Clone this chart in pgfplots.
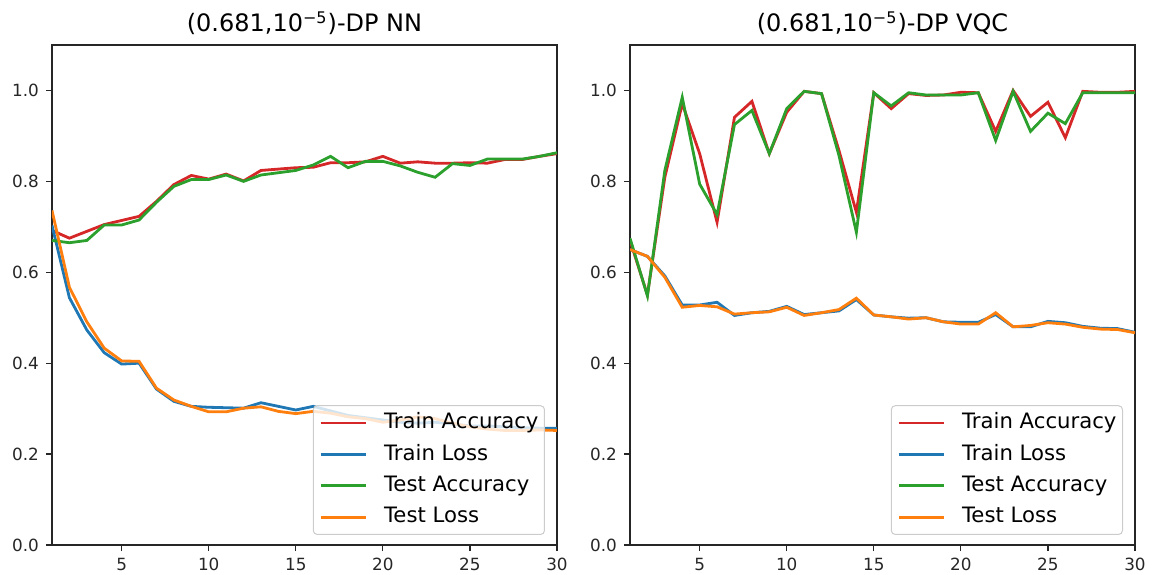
\documentclass[border=0pt]{standalone}
\usepackage{pgfplots}
\usepackage{pgfplotstable}
\pgfplotsset{compat=1.18}
\usepackage{fontspec}
\setmainfont{DejaVu Sans}
\definecolor{tred}{HTML}{D62728}
\definecolor{tblue}{HTML}{1F77B4}
\definecolor{tgreen}{HTML}{2CA02C}
\definecolor{torange}{HTML}{FF7F0E}

\pgfplotstableread{
x tra trl tea tel
1 0.692 0.703 0.670 0.736
2 0.675 0.544 0.665 0.567
3 0.690 0.473 0.670 0.491
4 0.705 0.423 0.704 0.433
5 0.714 0.398 0.704 0.405
6 0.723 0.400 0.715 0.404
7 0.756 0.343 0.754 0.345
8 0.793 0.316 0.789 0.319
9 0.813 0.305 0.804 0.305
10 0.805 0.303 0.804 0.293
11 0.816 0.302 0.814 0.293
12 0.801 0.301 0.800 0.301
13 0.824 0.313 0.814 0.304
14 0.827 0.305 0.819 0.294
15 0.830 0.297 0.824 0.289
16 0.831 0.305 0.836 0.294
17 0.841 0.295 0.855 0.290
18 0.841 0.285 0.830 0.282
19 0.843 0.280 0.844 0.278
20 0.855 0.275 0.844 0.270
21 0.840 0.270 0.834 0.275
22 0.843 0.268 0.820 0.282
23 0.840 0.270 0.809 0.278
24 0.840 0.266 0.839 0.268
25 0.841 0.262 0.835 0.260
26 0.840 0.262 0.849 0.255
27 0.848 0.260 0.849 0.252
28 0.848 0.258 0.849 0.252
29 0.855 0.257 0.855 0.253
30 0.861 0.257 0.863 0.252
}\leftdata

\pgfplotstableread{
x tra trl tea tel
1 0.670 0.650 0.675 0.650
2 0.550 0.635 0.548 0.635
3 0.809 0.592 0.824 0.589
4 0.971 0.528 0.985 0.523
5 0.861 0.528 0.794 0.527
6 0.710 0.534 0.727 0.524
7 0.941 0.505 0.925 0.508
8 0.976 0.511 0.956 0.511
9 0.861 0.514 0.861 0.513
10 0.952 0.525 0.960 0.523
11 0.998 0.507 0.998 0.505
12 0.993 0.511 0.993 0.511
13 0.868 0.515 0.857 0.518
14 0.732 0.540 0.688 0.543
15 0.995 0.506 0.995 0.506
16 0.960 0.502 0.966 0.502
17 0.993 0.499 0.995 0.497
18 0.989 0.500 0.990 0.500
19 0.990 0.491 0.990 0.491
20 0.996 0.490 0.990 0.486
21 0.995 0.490 0.995 0.486
22 0.910 0.507 0.890 0.511
23 1.000 0.480 0.998 0.480
24 0.943 0.480 0.910 0.483
25 0.974 0.492 0.950 0.489
26 0.896 0.489 0.927 0.486
27 0.998 0.481 0.995 0.479
28 0.996 0.477 0.995 0.475
29 0.996 0.476 0.995 0.474
30 0.998 0.468 0.995 0.467
}\rightdata

\pgfplotsset{
  myax/.style={
    scale only axis, width=252.5pt, height=250pt,
    anchor=south west,
    xmin=1, xmax=30, ymin=0, ymax=1.1,
    xtick={5,10,15,20,25,30},
    ytick={0,0.2,0.4,0.6,0.8,1.0},
    /pgf/number format/assume math mode=true,
    yticklabel style={/pgf/number format/fixed, /pgf/number format/fixed zerofill, /pgf/number format/precision=1},
    tick label style={font=\fontsize{8.4}{10}\selectfont, text=black!85},
    tick align=outside, major tick length=3pt,
    tick style={line width=0.6pt, black!85},
    axis line style={line width=0.6pt, black!85},
    xtick pos=bottom, ytick pos=left,
    title style={at={(0.5,1)}, anchor=base, yshift=0.5pt, font=\fontsize{12}{14}\selectfont},
    every axis plot/.append style={line width=1.4pt},
    legend cell align=left,
    legend image code/.code={\draw[##1] (0pt,0pt) -- (22.5pt,0pt);},
    legend style={at={(1,0)}, anchor=south east, xshift=-6pt, yshift=5pt,
      draw=black!20, line width=0.5pt, rounded corners=2pt, fill=white, fill opacity=0.8, text opacity=1,
      font=\fontsize{10.6}{12.6}\selectfont, row sep=2.4pt, column sep=8.5pt, inner xsep=3pt, inner ysep=2pt,
      nodes={inner xsep=0pt, inner ysep=1.5pt, text height=8pt, text depth=2.3pt}},
  }
}

\begin{document}
\begin{tikzpicture}
\path[use as bounding box] (0,0) rectangle (579pt,287pt);
\begin{axis}[myax, at={(26pt,14.5pt)}, title={(0.681,10\textsuperscript{\char"2212 5})-DP NN}]
\addplot[tred] table[x=x,y=tra] {\leftdata};
\addplot[tblue] table[x=x,y=trl] {\leftdata};
\addplot[tgreen] table[x=x,y=tea] {\leftdata};
\addplot[torange] table[x=x,y=tel] {\leftdata};
\legend{Train Accuracy, Train Loss, Test Accuracy, Test Loss}
\end{axis}
\begin{axis}[myax, at={(315pt,14.5pt)}, title={(0.681,10\textsuperscript{\char"2212 5})-DP VQC}]
\addplot[tred] table[x=x,y=tra] {\rightdata};
\addplot[tblue] table[x=x,y=trl] {\rightdata};
\addplot[tgreen] table[x=x,y=tea] {\rightdata};
\addplot[torange] table[x=x,y=tel] {\rightdata};
\legend{Train Accuracy, Train Loss, Test Accuracy, Test Loss}
\end{axis}
\end{tikzpicture}
\end{document}
